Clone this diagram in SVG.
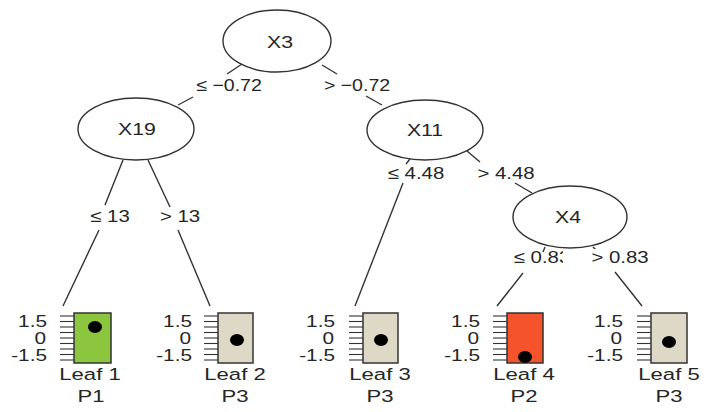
<svg xmlns="http://www.w3.org/2000/svg" width="711" height="412" viewBox="0 0 711 412">
<style>
text{font-family:"Liberation Sans",Arial,sans-serif;fill:#262626}
.n{font-size:17px;text-anchor:middle}
.e{font-size:17px;text-anchor:middle}
.ax{font-size:16px;text-anchor:end}
.lf{font-size:17px;text-anchor:middle}
ellipse.node{fill:#fff;stroke:#333;stroke-width:1.4}
.edge line{stroke:#333;stroke-width:1.4}
.box{stroke:#333;stroke-width:1.5}
.tick{stroke:#333;stroke-width:1.1}
.dot{fill:#000}
</style>
<rect width="711" height="412" fill="#fff"/>
<g id="connectors" class="edge">
<line x1="242" y1="64" x2="227" y2="74"/>
<line x1="193" y1="97" x2="178" y2="105"/>
<line x1="322" y1="65" x2="337" y2="74"/>
<line x1="366" y1="96" x2="382" y2="105"/>
<line x1="123" y1="160" x2="105" y2="205"/>
<line x1="99" y1="230" x2="63" y2="306"/>
<line x1="148" y1="160" x2="170" y2="207"/>
<line x1="178" y1="230" x2="210" y2="306"/>
<line x1="410" y1="159" x2="406" y2="164"/>
<line x1="403" y1="183" x2="355" y2="306"/>
<line x1="467" y1="151" x2="480" y2="162"/>
<line x1="515" y1="183" x2="532" y2="193"/>
<line x1="545" y1="247" x2="543" y2="252"/>
<line x1="523" y1="273" x2="497" y2="306"/>
<line x1="593" y1="247" x2="597" y2="251"/>
<line x1="615" y1="272" x2="642" y2="306"/>
</g>
<g id="edge-labels">
<text class="e" transform="translate(229,91) scale(1.15,1)">≤ −0.72</text>
<text class="e" transform="translate(357,91) scale(1.15,1)">&gt; −0.72</text>
<text class="e" transform="translate(110,222) scale(1.2,1)">≤ 13</text>
<text class="e" transform="translate(180,222) scale(1.2,1)">&gt; 13</text>
<text class="e" transform="translate(416,179) scale(1.2,1)">≤ 4.48</text>
<text class="e" transform="translate(506,179) scale(1.2,1)">&gt; 4.48</text>
<text class="e" transform="translate(542,263) scale(1.2,1)">≤ 0.83</text>
<rect x="563" y="249" width="92" height="19" fill="#fff"/>
<text class="e" transform="translate(620,263) scale(1.2,1)">&gt; 0.83</text>
</g>
<g id="node-X3">
<ellipse class="node" cx="277" cy="41" rx="54" ry="31"/>
<text class="n" transform="translate(280,48) scale(1.25,1)">X3</text>
</g>
<g id="node-X19">
<ellipse class="node" cx="136" cy="129" rx="58" ry="31"/>
<text class="n" transform="translate(137,135) scale(1.25,1)">X19</text>
</g>
<g id="node-X11">
<ellipse class="node" cx="425" cy="130" rx="58" ry="30"/>
<text class="n" transform="translate(425,136) scale(1.25,1)">X11</text>
</g>
<g id="node-X4">
<ellipse class="node" cx="570" cy="217" rx="57" ry="31"/>
<text class="n" transform="translate(568,223) scale(1.25,1)">X4</text>
</g>
<defs>
<g id="ticks">
<line class="tick" x1="-14" y1="316" x2="0" y2="316"/>
<line class="tick" x1="-14" y1="321.5" x2="0" y2="321.5"/>
<line class="tick" x1="-14" y1="327" x2="0" y2="327"/>
<line class="tick" x1="-14" y1="332.5" x2="0" y2="332.5"/>
<line class="tick" x1="-14" y1="338" x2="0" y2="338"/>
<line class="tick" x1="-14" y1="343.5" x2="0" y2="343.5"/>
<line class="tick" x1="-14" y1="349" x2="0" y2="349"/>
<line class="tick" x1="-14" y1="354.5" x2="0" y2="354.5"/>
<line class="tick" x1="-14" y1="360" x2="0" y2="360"/>
</g>
</defs>
<g id="leaf-1">
<use href="#ticks" x="74"/>
<text class="ax" transform="translate(47,327) scale(1.3,1)">1.5</text>
<text class="ax" transform="translate(46,344) scale(1.3,1)">0</text>
<text class="ax" transform="translate(47,361) scale(1.3,1)">-1.5</text>
<rect class="box" x="74" y="313" width="37" height="50" fill="#8cc63e"/>
<ellipse class="dot" cx="95" cy="327" rx="7" ry="6"/>
<text class="lf" transform="translate(90,380) scale(1.3,1)">Leaf 1</text>
<text class="lf" transform="translate(91,402) scale(1.3,1)">P1</text>
</g>
<g id="leaf-2">
<use href="#ticks" x="218"/>
<text class="ax" transform="translate(192,327) scale(1.3,1)">1.5</text>
<text class="ax" transform="translate(191,344) scale(1.3,1)">0</text>
<text class="ax" transform="translate(192,361) scale(1.3,1)">-1.5</text>
<rect class="box" x="218" y="313" width="35" height="50" fill="#ddd9c6"/>
<ellipse class="dot" cx="237" cy="340" rx="7" ry="6"/>
<text class="lf" transform="translate(235,380) scale(1.3,1)">Leaf 2</text>
<text class="lf" transform="translate(235,402) scale(1.3,1)">P3</text>
</g>
<g id="leaf-3">
<use href="#ticks" x="363"/>
<text class="ax" transform="translate(335,327) scale(1.3,1)">1.5</text>
<text class="ax" transform="translate(334,344) scale(1.3,1)">0</text>
<text class="ax" transform="translate(335,361) scale(1.3,1)">-1.5</text>
<rect class="box" x="363" y="313" width="35" height="50" fill="#ddd9c6"/>
<ellipse class="dot" cx="381" cy="340" rx="7" ry="6"/>
<text class="lf" transform="translate(380,380) scale(1.3,1)">Leaf 3</text>
<text class="lf" transform="translate(380,402) scale(1.3,1)">P3</text>
</g>
<g id="leaf-4">
<use href="#ticks" x="507"/>
<text class="ax" transform="translate(480,327) scale(1.3,1)">1.5</text>
<text class="ax" transform="translate(479,344) scale(1.3,1)">0</text>
<text class="ax" transform="translate(480,361) scale(1.3,1)">-1.5</text>
<rect class="box" x="507" y="313" width="36" height="50" fill="#f4532b"/>
<ellipse class="dot" cx="525" cy="357" rx="7" ry="6"/>
<text class="lf" transform="translate(524,380) scale(1.3,1)">Leaf 4</text>
<text class="lf" transform="translate(524,402) scale(1.3,1)">P2</text>
</g>
<g id="leaf-5">
<use href="#ticks" x="651"/>
<text class="ax" transform="translate(623,327) scale(1.3,1)">1.5</text>
<text class="ax" transform="translate(622,344) scale(1.3,1)">0</text>
<text class="ax" transform="translate(623,361) scale(1.3,1)">-1.5</text>
<rect class="box" x="651" y="313" width="36" height="50" fill="#ddd9c6"/>
<ellipse class="dot" cx="669" cy="342" rx="7" ry="6"/>
<text class="lf" transform="translate(669,380) scale(1.3,1)">Leaf 5</text>
<text class="lf" transform="translate(669,402) scale(1.3,1)">P3</text>
</g>
</svg>
